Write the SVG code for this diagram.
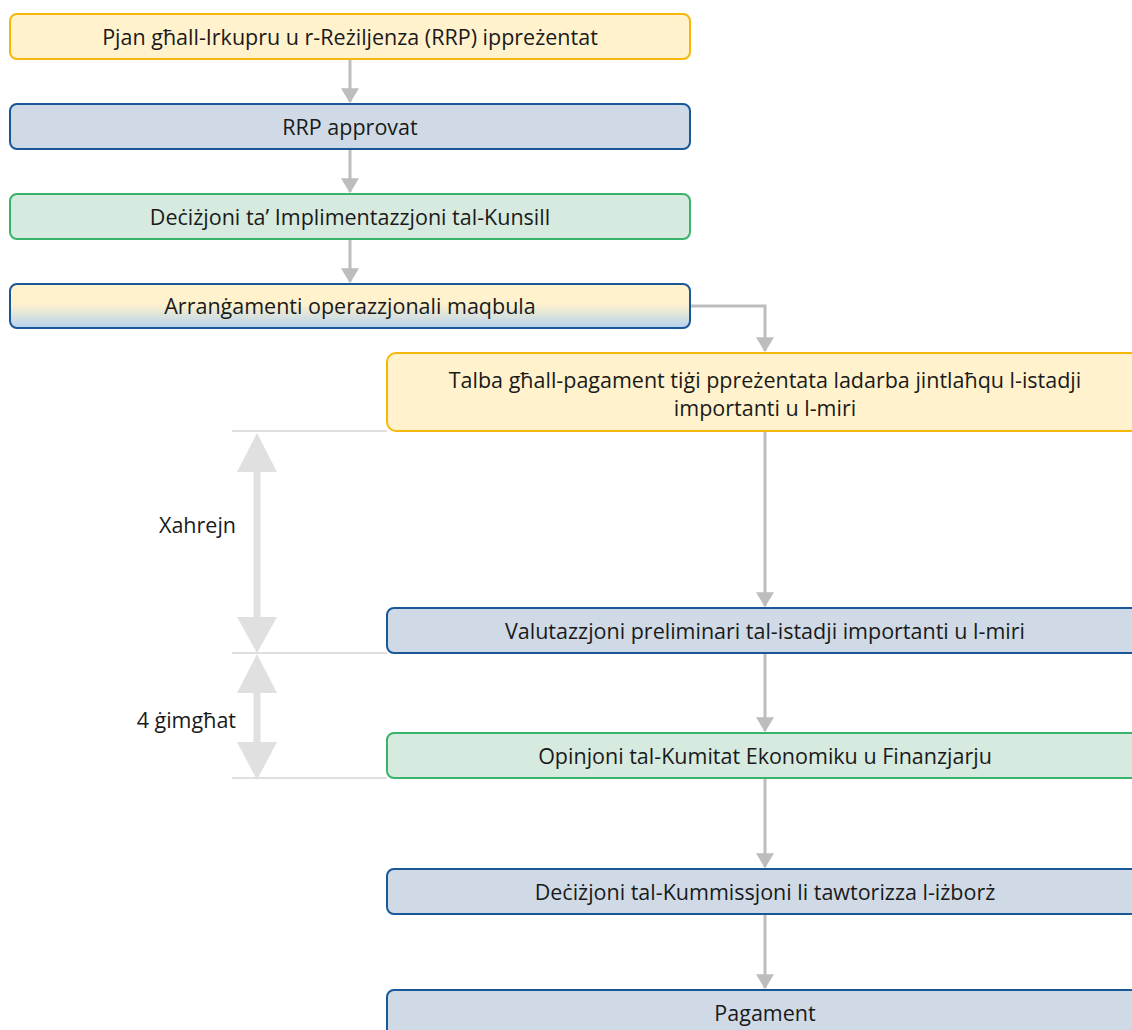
<svg xmlns="http://www.w3.org/2000/svg" width="1132" height="1030" viewBox="0 0 1132 1030">
<defs>
<style>
.t{font-family:"Open Sans","Noto Sans",sans-serif;font-size:21.5px;fill:#1a1a1a;text-anchor:middle}
.l{font-family:"Open Sans","Noto Sans",sans-serif;font-size:21.5px;fill:#1a1a1a;text-anchor:end}
.y{fill:#fff2cc;stroke:#f5b80a;stroke-width:2}
.b{fill:#cfdae6;stroke:#1a5796;stroke-width:2}
.g{fill:#d6eadf;stroke:#3ab36a;stroke-width:2}
.c{fill:none;stroke:#bdbdbd;stroke-width:3}
.h{stroke:#d4d4d4;stroke-width:1.5}
.d{fill:#e0e0e0}
</style>
<linearGradient id="grad" x1="0" y1="0" x2="0" y2="1">
<stop offset="0" stop-color="#fff2cc"/>
<stop offset="0.45" stop-color="#fff2cc"/>
<stop offset="1" stop-color="#b5d2ef"/>
</linearGradient>
<marker id="ah" markerWidth="5" markerHeight="6" refX="4.6" refY="3" orient="auto" markerUnits="strokeWidth">
<path d="M0,0 L5,3 L0,6 Z" fill="#bdbdbd"/>
</marker>
</defs>

<g id="guides">
<line class="h" x1="232" y1="431" x2="387" y2="431"/>
<line class="h" x1="232" y1="653" x2="387" y2="653"/>
<line class="h" x1="232" y1="778" x2="387" y2="778"/>
<path class="d" d="M257,433 L277,472 L260.5,472 L260.5,617 L277,617 L257,653 L237,617 L253.5,617 L253.5,472 L237,472 Z"/>
<path class="d" d="M257,654 L277,693 L260.5,693 L260.5,742 L277,742 L257,780 L237,742 L253.5,742 L253.5,693 L237,693 Z"/>
<text class="l" x="236" y="533">Xahrejn</text>
<text class="l" x="236" y="728">4 ġimgħat</text>
</g>

<g id="connectors">
<line class="c" x1="350" y1="60" x2="350" y2="102" marker-end="url(#ah)"/>
<line class="c" x1="350" y1="150" x2="350" y2="192" marker-end="url(#ah)"/>
<line class="c" x1="350" y1="240" x2="350" y2="282" marker-end="url(#ah)"/>
<path class="c" d="M691,306 L765,306 L765,351" marker-end="url(#ah)"/>
<line class="c" x1="765" y1="432" x2="765" y2="606" marker-end="url(#ah)"/>
<line class="c" x1="765" y1="654" x2="765" y2="731" marker-end="url(#ah)"/>
<line class="c" x1="765" y1="779" x2="765" y2="867" marker-end="url(#ah)"/>
<line class="c" x1="765" y1="915" x2="765" y2="988" marker-end="url(#ah)"/>
</g>

<g id="n1"><rect class="y" x="10" y="14" width="680" height="45" rx="7"/><text class="t" x="350" y="44.5">Pjan għall-Irkupru u r-Reżiljenza (RRP) ippreżentat</text></g>
<g id="n2"><rect class="b" x="10" y="104" width="680" height="45" rx="7"/><text class="t" x="350" y="134.5">RRP approvat</text></g>
<g id="n3"><rect class="g" x="10" y="194" width="680" height="45" rx="7"/><text class="t" x="350" y="224.5">Deċiżjoni ta’ Implimentazzjoni tal-Kunsill</text></g>
<g id="n4"><rect x="10" y="284" width="680" height="44" rx="7" fill="url(#grad)" stroke="#1a5796" stroke-width="2"/><text class="t" x="350" y="313.5">Arranġamenti operazzjonali maqbula</text></g>
<g id="n5"><rect class="y" x="387" y="353" width="760" height="78" rx="9"/><text class="t" x="765" y="387.5">Talba għall-pagament tiġi ppreżentata ladarba jintlaħqu l-istadji</text><text class="t" x="765" y="415.5">importanti u l-miri</text></g>
<g id="n6"><rect class="b" x="387" y="608" width="760" height="45" rx="7"/><text class="t" x="765" y="638.5">Valutazzjoni preliminari tal-istadji importanti u l-miri</text></g>
<g id="n7"><rect class="g" x="387" y="733" width="760" height="45" rx="7"/><text class="t" x="765" y="763.5">Opinjoni tal-Kumitat Ekonomiku u Finanzjarju</text></g>
<g id="n8"><rect class="b" x="387" y="869" width="760" height="45" rx="7"/><text class="t" x="765" y="899.5">Deċiżjoni tal-Kummissjoni li tawtorizza l-iżborż</text></g>
<g id="n9"><rect class="b" x="387" y="990" width="760" height="60" rx="7"/><text class="t" x="765" y="1020.5">Pagament</text></g>
</svg>
